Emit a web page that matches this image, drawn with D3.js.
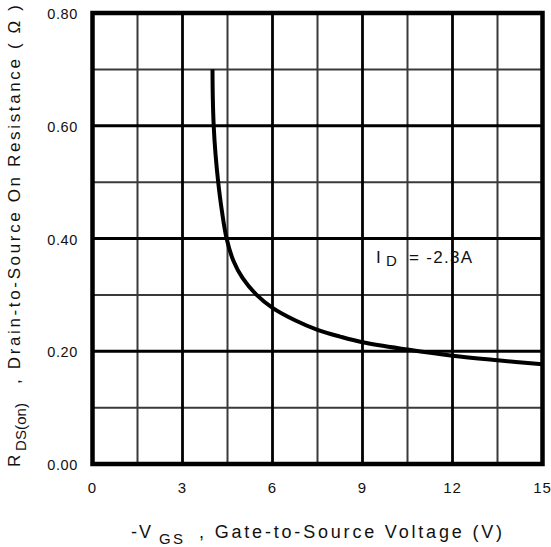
<!DOCTYPE html>
<html>
<head>
<meta charset="utf-8">
<script src="https://cdn.jsdelivr.net/npm/d3@7"></script>
<style>
  html, body { margin: 0; padding: 0; background: #fff; }
  svg { display: block; font-family: "Liberation Sans", Arial, sans-serif; }
</style>
</head>
<body>
<svg id="chart" width="551" height="547"></svg>
<script>
// On-resistance vs. gate-to-source voltage, ID = -2.3 A
const vgs = [4.0, 4.01, 4.04, 4.1, 4.19, 4.31, 4.47, 4.7, 5.0, 5.47, 6.0, 6.75, 7.5, 8.25, 9.0, 10.5, 12.0, 13.5, 15.0];
const rdsOn = [0.70, 0.65, 0.60, 0.55, 0.50, 0.45, 0.40, 0.36, 0.33, 0.30, 0.277, 0.255, 0.238, 0.226, 0.216, 0.203, 0.192, 0.184, 0.177];

const xTicks = [0, 3, 6, 9, 12, 15];
const xTickLabels = ["0", "3", "6", "9", "12", "15"];
const yTicks = [0, 0.2, 0.4, 0.6, 0.8];
const yTickLabels = ["0.00", "0.20", "0.40", "0.60", "0.80"];
const xMinor = [1.5, 4.5, 7.5, 10.5, 13.5];
const yMinor = [0.1, 0.3, 0.5, 0.7];

const svg = d3.select("#chart");
const plotL = 92.5, plotR = 542.5, plotT = 13, plotB = 464;

const x = d3.scaleLinear().domain([0, 15]).range([plotL, plotR]);
const y = d3.scaleLinear().domain([0, 0.8]).range([plotB, plotT]);

const grid = svg.append("g");
// minor grid
grid.selectAll("line.vmin").data(xMinor).join("line")
  .attr("x1", d => x(d)).attr("x2", d => x(d)).attr("y1", plotT).attr("y2", plotB)
  .attr("stroke", "#3a3a3a").attr("stroke-width", 2);
grid.selectAll("line.hmin").data(yMinor).join("line")
  .attr("x1", plotL).attr("x2", plotR).attr("y1", d => y(d)).attr("y2", d => y(d))
  .attr("stroke", "#3a3a3a").attr("stroke-width", 2);
// major grid
grid.selectAll("line.vmaj").data(xTicks.slice(1, -1)).join("line")
  .attr("x1", d => x(d)).attr("x2", d => x(d)).attr("y1", plotT).attr("y2", plotB)
  .attr("stroke", "#000").attr("stroke-width", 2.8);
grid.selectAll("line.hmaj").data(yTicks.slice(1, -1)).join("line")
  .attr("x1", plotL).attr("x2", plotR).attr("y1", d => y(d)).attr("y2", d => y(d))
  .attr("stroke", "#000").attr("stroke-width", 2.8);

// frame
svg.append("rect")
  .attr("x", plotL).attr("y", plotT).attr("width", plotR - plotL).attr("height", plotB - plotT)
  .attr("fill", "none").attr("stroke", "#000").attr("stroke-width", 4.5);

// curve
const pts = vgs.map((v, i) => [v, rdsOn[i]]);
svg.append("path")
  .datum(pts)
  .attr("fill", "none").attr("stroke", "#000").attr("stroke-width", 4)
  .attr("stroke-linejoin", "round")
  .attr("d", d3.line().x(d => x(d[0])).y(d => y(d[1])).curve(d3.curveCatmullRom.alpha(0.5)));

// y tick labels
svg.selectAll("text.ylab").data(yTicks).join("text")
  .attr("x", 47.3).attr("y", d => y(d) + 6)
  .attr("textLength", 30)
  .attr("font-size", 14.5).attr("fill", "#111")
  .text((d, i) => yTickLabels[i]);

// x tick labels
svg.selectAll("text.xlab").data(xTicks).join("text")
  .attr("x", d => x(d)).attr("y", 493)
  .attr("text-anchor", "middle")
  .attr("font-size", 15).attr("fill", "#111")
  .attr("letter-spacing", 1)
  .text((d, i) => xTickLabels[i]);

// x axis title
const xt = svg.append("g").attr("fill", "#111");
xt.append("text").attr("x", 131).attr("y", 538).attr("font-size", 18).attr("textLength", 20).text("-V");
xt.append("text").attr("x", 159).attr("y", 544).attr("font-size", 15).attr("textLength", 24).text("GS");
xt.append("text").attr("x", 199).attr("y", 538).attr("font-size", 18).attr("textLength", 303)
  .text(", Gate-to-Source Voltage (V)");

// y axis title
const yt = svg.append("g").attr("fill", "#111").attr("transform", "rotate(-90)");
yt.append("text").attr("x", -467).attr("y", 20).attr("font-size", 17).attr("textLength", 12).text("R");
yt.append("text").attr("x", -451).attr("y", 25.5).attr("font-size", 15).attr("textLength", 48).text("DS(on)");
yt.append("text").attr("x", -384).attr("y", 19.5).attr("font-size", 17).attr("textLength", 379)
  .text(", Drain-to-Source On Resistance ( \u03A9 )");

// current annotation
const ann = svg.append("g").attr("fill", "#111");
ann.append("text").attr("x", 376).attr("y", 262.5).attr("font-size", 17).text("I");
ann.append("text").attr("x", 386).attr("y", 265.5).attr("font-size", 15).attr("textLength", 10).text("D");
ann.append("text").attr("x", 409).attr("y", 262.5).attr("font-size", 17).attr("textLength", 63).text("= -2.3A");
</script>
</body>
</html>
